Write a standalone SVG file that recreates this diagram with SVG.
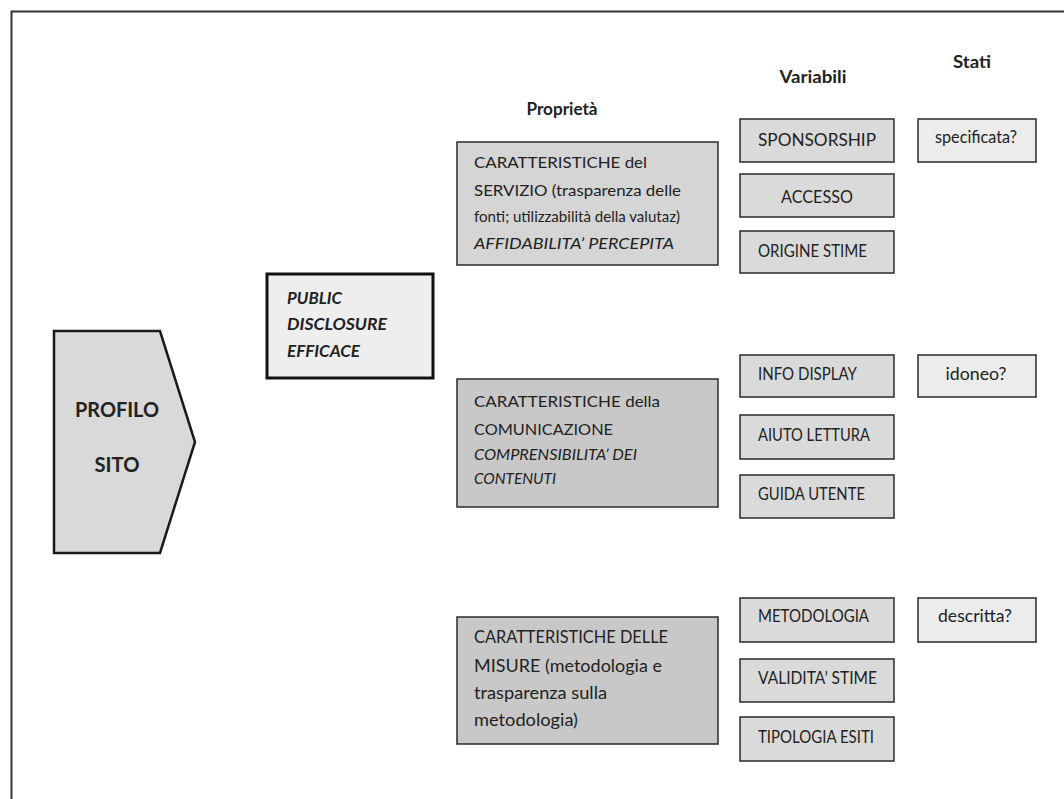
<svg xmlns="http://www.w3.org/2000/svg" width="1064" height="799" viewBox="0 0 1064 799">
<style>
text{font-family:Lato,"Liberation Sans",sans-serif;fill:#222}
.h{font-weight:bold;font-size:16.5px;text-anchor:middle}
.b{font-weight:bold;font-size:20px;text-anchor:middle}
.bi{font-weight:bold;font-style:italic;font-size:17px}
.p{font-size:16px}
.pi{font-size:15.5px;font-style:italic}
.pi2{font-size:15px;font-style:italic}
.p3{font-size:16.5px}
.v{font-size:17px}
.vc{font-size:17px;text-anchor:middle}
.var{fill:#dadada;stroke:#2a2a2a;stroke-width:1.5}
.st{fill:#ececec;stroke:#2a2a2a;stroke-width:1.5}
.pr1{fill:#d5d5d5;stroke:#2a2a2a;stroke-width:1.5}
.pr2{fill:#c8c8c8;stroke:#2a2a2a;stroke-width:1.5}
</style>
<rect width="1064" height="799" fill="#fff"/>
<path d="M11.5,799 V11.5 H1064" fill="none" stroke="#333" stroke-width="2"/>
<g id="connectors"/>
<g id="headers">
<text class="h" x="562" y="115" textLength="71" lengthAdjust="spacingAndGlyphs">Proprietà</text>
<text class="h" x="813" y="83" textLength="67" lengthAdjust="spacingAndGlyphs">Variabili</text>
<text class="h" x="972" y="68" textLength="38" lengthAdjust="spacingAndGlyphs">Stati</text>
</g>
<g id="profilo-sito">
<path d="M54,331 H160 L195,442 L160,553 H54 Z" fill="#d9d9d9" stroke="#1a1a1a" stroke-width="2.5"/>
<text class="b" x="117" y="417" textLength="84" lengthAdjust="spacingAndGlyphs">PROFILO</text>
<text class="b" x="117" y="472" textLength="45" lengthAdjust="spacingAndGlyphs">SITO</text>
</g>
<g id="public-disclosure">
<rect x="267" y="274" width="166" height="104" fill="#eeeeee" stroke="#111" stroke-width="3"/>
<text class="bi" x="287" y="304" textLength="55" lengthAdjust="spacingAndGlyphs">PUBLIC</text>
<text class="bi" x="287" y="330" textLength="100" lengthAdjust="spacingAndGlyphs">DISCLOSURE</text>
<text class="bi" x="287" y="357" textLength="73" lengthAdjust="spacingAndGlyphs">EFFICACE</text>
</g>
<g id="prop-servizio">
<rect class="pr1" x="457" y="142" width="261" height="123"/>
<text class="p" x="474" y="168" textLength="173" lengthAdjust="spacingAndGlyphs">CARATTERISTICHE del</text>
<text class="p" x="474" y="196" textLength="207" lengthAdjust="spacingAndGlyphs">SERVIZIO (trasparenza delle</text>
<text class="p" x="474" y="222" textLength="206" lengthAdjust="spacingAndGlyphs">fonti; utilizzabilità della valutaz)</text>
<text class="pi" x="474" y="249" textLength="200" lengthAdjust="spacingAndGlyphs">AFFIDABILITA’ PERCEPITA</text>
</g>
<g id="prop-comunicazione">
<rect class="pr2" x="457" y="379" width="261" height="128"/>
<text class="p" x="474" y="407" textLength="186" lengthAdjust="spacingAndGlyphs">CARATTERISTICHE della</text>
<text class="p" x="474" y="435" textLength="139" lengthAdjust="spacingAndGlyphs">COMUNICAZIONE</text>
<text class="pi2" x="474" y="460" textLength="163" lengthAdjust="spacingAndGlyphs">COMPRENSIBILITA’ DEI</text>
<text class="pi2" x="474" y="484" textLength="82" lengthAdjust="spacingAndGlyphs">CONTENUTI</text>
</g>
<g id="prop-misure">
<rect class="pr2" x="457" y="617" width="261" height="127"/>
<text class="p3" x="474" y="643" textLength="194" lengthAdjust="spacingAndGlyphs">CARATTERISTICHE DELLE</text>
<text class="p3" x="474" y="672" textLength="188" lengthAdjust="spacingAndGlyphs">MISURE (metodologia e</text>
<text class="p3" x="474" y="699" textLength="133" lengthAdjust="spacingAndGlyphs">trasparenza sulla</text>
<text class="p3" x="474" y="726" textLength="104" lengthAdjust="spacingAndGlyphs">metodologia)</text>
</g>
<g id="var-sponsorship">
<rect class="var" x="740" y="119" width="154" height="43"/>
<text class="vc" x="817" y="146" textLength="118" lengthAdjust="spacingAndGlyphs">SPONSORSHIP</text>
</g>
<g id="var-accesso">
<rect class="var" x="740" y="174" width="154" height="43"/>
<text class="vc" x="817" y="203" textLength="72" lengthAdjust="spacingAndGlyphs">ACCESSO</text>
</g>
<g id="var-origine">
<rect class="var" x="740" y="231" width="154" height="42"/>
<text class="v" x="758" y="257" textLength="109" lengthAdjust="spacingAndGlyphs">ORIGINE STIME</text>
</g>
<g id="stato-specificata">
<rect class="st" x="918" y="119" width="118" height="43"/>
<text class="vc" x="976" y="143" textLength="82" lengthAdjust="spacingAndGlyphs">specificata?</text>
</g>
<g id="var-info">
<rect class="var" x="740" y="355" width="154" height="42"/>
<text class="v" x="758" y="380" textLength="99" lengthAdjust="spacingAndGlyphs">INFO DISPLAY</text>
</g>
<g id="var-aiuto">
<rect class="var" x="740" y="415" width="154" height="44"/>
<text class="v" x="758" y="441" textLength="112" lengthAdjust="spacingAndGlyphs">AIUTO LETTURA</text>
</g>
<g id="var-guida">
<rect class="var" x="740" y="475" width="154" height="43"/>
<text class="v" x="758" y="500" textLength="107" lengthAdjust="spacingAndGlyphs">GUIDA UTENTE</text>
</g>
<g id="stato-idoneo">
<rect class="st" x="918" y="355" width="118" height="42"/>
<text class="vc" x="976" y="380" textLength="61" lengthAdjust="spacingAndGlyphs">idoneo?</text>
</g>
<g id="var-metodologia">
<rect class="var" x="740" y="598" width="154" height="44"/>
<text class="v" x="758" y="622" textLength="111" lengthAdjust="spacingAndGlyphs">METODOLOGIA</text>
</g>
<g id="var-validita">
<rect class="var" x="740" y="659" width="154" height="43"/>
<text class="v" x="758" y="684" textLength="119" lengthAdjust="spacingAndGlyphs">VALIDITA’ STIME</text>
</g>
<g id="var-tipologia">
<rect class="var" x="740" y="717" width="154" height="44"/>
<text class="v" x="758" y="743" textLength="116" lengthAdjust="spacingAndGlyphs">TIPOLOGIA ESITI</text>
</g>
<g id="stato-descritta">
<rect class="st" x="918" y="598" width="118" height="44"/>
<text class="vc" x="975" y="622" textLength="74" lengthAdjust="spacingAndGlyphs">descritta?</text>
</g>
</svg>
